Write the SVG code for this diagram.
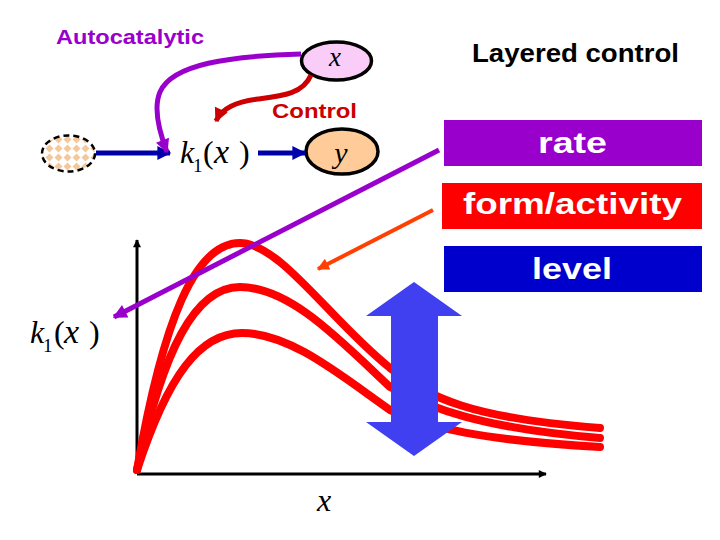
<svg xmlns="http://www.w3.org/2000/svg" width="720" height="540" viewBox="0 0 720 540">
<style>
.lbl{font-family:"Liberation Sans",Arial,sans-serif;font-weight:bold}
.math{font-family:"Liberation Serif","Times New Roman",serif;fill:#000}
.it{font-style:italic}
.curve{fill:none;stroke:#FF0000;stroke-width:8;stroke-linecap:round}
.band text{fill:#fff;font-family:"Liberation Sans",Arial,sans-serif;font-weight:bold;font-size:29px}
</style>
<defs>
<pattern id="check" width="9" height="9" patternUnits="userSpaceOnUse">
<rect width="9" height="9" fill="#fff"/>
<polygon points="4.5,0.5 8.5,4.5 4.5,8.5 0.5,4.5" fill="#F5C89C"/>
</pattern>
<marker id="ahBlue" viewBox="0 0 10 10" refX="9" refY="5" markerWidth="16" markerHeight="14" markerUnits="userSpaceOnUse" orient="auto"><path d="M0,0 L10,5 L0,10 z" fill="#0000AA"/></marker>
<marker id="ahPurple" viewBox="0 0 10 10" refX="9" refY="5" markerWidth="16" markerHeight="14" markerUnits="userSpaceOnUse" orient="auto"><path d="M0,0 L10,5 L0,10 z" fill="#9900CC"/></marker>
<marker id="ahRed" viewBox="0 0 10 10" refX="9" refY="5" markerWidth="16" markerHeight="14" markerUnits="userSpaceOnUse" orient="auto"><path d="M0,0 L10,5 L0,10 z" fill="#CC0000"/></marker>
<marker id="ahOrange" viewBox="0 0 10 10" refX="9" refY="5" markerWidth="15" markerHeight="12" markerUnits="userSpaceOnUse" orient="auto"><path d="M0,0 L10,5 L0,10 z" fill="#FF4000"/></marker>
<marker id="ahBlack" viewBox="0 0 10 10" refX="9" refY="5" markerWidth="9" markerHeight="8" markerUnits="userSpaceOnUse" orient="auto"><path d="M0,0 L10,5 L0,10 z" fill="#000"/></marker>
</defs>
<rect width="720" height="540" fill="#fff"/>

<g id="title-autocatalytic"><text class="lbl" x="56" y="44" font-size="21" fill="#9900CC" textLength="148" lengthAdjust="spacingAndGlyphs">Autocatalytic</text></g>
<g id="title-layered"><text class="lbl" x="472" y="62" font-size="26" fill="#000" textLength="207" lengthAdjust="spacingAndGlyphs">Layered control</text></g>

<g id="plot">
<line x1="137" y1="474" x2="137" y2="240" stroke="#000" stroke-width="3" marker-end="url(#ahBlack)"/>
<line x1="137" y1="474" x2="546" y2="474" stroke="#000" stroke-width="3" marker-end="url(#ahBlack)"/>
<path class="curve" d="M137,470 C163,320 195,243 240,243 C280,243 330,320 390,368 C430,398 470,418 600,428"/>
<path class="curve" d="M137,470 C163,350 195,287 240,287 C290,287 340,340 390,387 C430,408 480,428 600,438"/>
<path class="curve" d="M137,470 C168,375 200,333 242,333 C290,333 340,375 390,410 C430,428 480,440 600,447"/>
<polygon id="level-arrow" points="414,282 462,316 438,316 438,422 462,422 414,456 366,422 391,422 391,316 366,316" fill="#4040F0"/>
<text class="math it" x="317" y="511" font-size="32">x</text>
<g id="k1x-axis"><text class="math" y="343" font-size="32"><tspan class="it" x="30">k</tspan><tspan x="43" y="352" font-size="19">1</tspan><tspan x="54" y="343">(</tspan><tspan class="it" x="64" font-size="34">x</tspan><tspan x="89">)</tspan></text></g>
</g>

<g id="source"><ellipse cx="68.5" cy="153.5" rx="26.5" ry="18" fill="url(#check)" stroke="#000" stroke-width="2.5" stroke-dasharray="6,4"/></g>
<g id="k1x"><text class="math" y="163" font-size="32"><tspan class="it" x="180">k</tspan><tspan x="193" y="172" font-size="19">1</tspan><tspan x="203" y="163">(</tspan><tspan class="it" x="214" font-size="34">x</tspan><tspan x="239">)</tspan></text></g>
<g id="node-x"><ellipse cx="336.5" cy="61" rx="35" ry="19" fill="#FACCF8" stroke="#000" stroke-width="3.5"/><text class="math it" x="335" y="66" font-size="27" text-anchor="middle">x</text></g>
<g id="node-y"><ellipse cx="342" cy="151.5" rx="36" ry="22.5" fill="#FFCC99" stroke="#000" stroke-width="3.5"/><text class="math it" x="341" y="163" font-size="30" text-anchor="middle">y</text></g>
<g id="label-control"><text class="lbl" x="272" y="118" font-size="20" fill="#CC0000" textLength="85" lengthAdjust="spacingAndGlyphs">Control</text></g>

<g id="band-rate" class="band"><rect x="444" y="120" width="258" height="46" fill="#9900CC"/><text x="538" y="153" textLength="69" lengthAdjust="spacingAndGlyphs">rate</text></g>
<g id="band-form" class="band"><rect x="442" y="183" width="260" height="46" fill="#FF0000"/><text x="463" y="214" textLength="219" lengthAdjust="spacingAndGlyphs">form/activity</text></g>
<g id="band-level" class="band"><rect x="444" y="246" width="258" height="46" fill="#0000CC"/><text x="532" y="279" textLength="80" lengthAdjust="spacingAndGlyphs">level</text></g>

<g id="connectors">
<line x1="96" y1="153" x2="170" y2="153" stroke="#0000AA" stroke-width="5" marker-end="url(#ahBlue)"/>
<line x1="258" y1="153" x2="305" y2="153" stroke="#0000AA" stroke-width="5" marker-end="url(#ahBlue)"/>
<path d="M301,54 C230,56 172,64 160,92 C154,106 157,126 167,152" fill="none" stroke="#9900CC" stroke-width="5" marker-end="url(#ahPurple)"/>
<path d="M311,75 C303,94 282,96 258,99 C236,102 222,108 216,121" fill="none" stroke="#CC0000" stroke-width="5" marker-end="url(#ahRed)"/>
<line x1="439" y1="150" x2="114" y2="317" stroke="#9900CC" stroke-width="5" marker-end="url(#ahPurple)"/>
<line x1="433" y1="210" x2="318" y2="269" stroke="#FF4000" stroke-width="4" marker-end="url(#ahOrange)"/>
</g>
</svg>
